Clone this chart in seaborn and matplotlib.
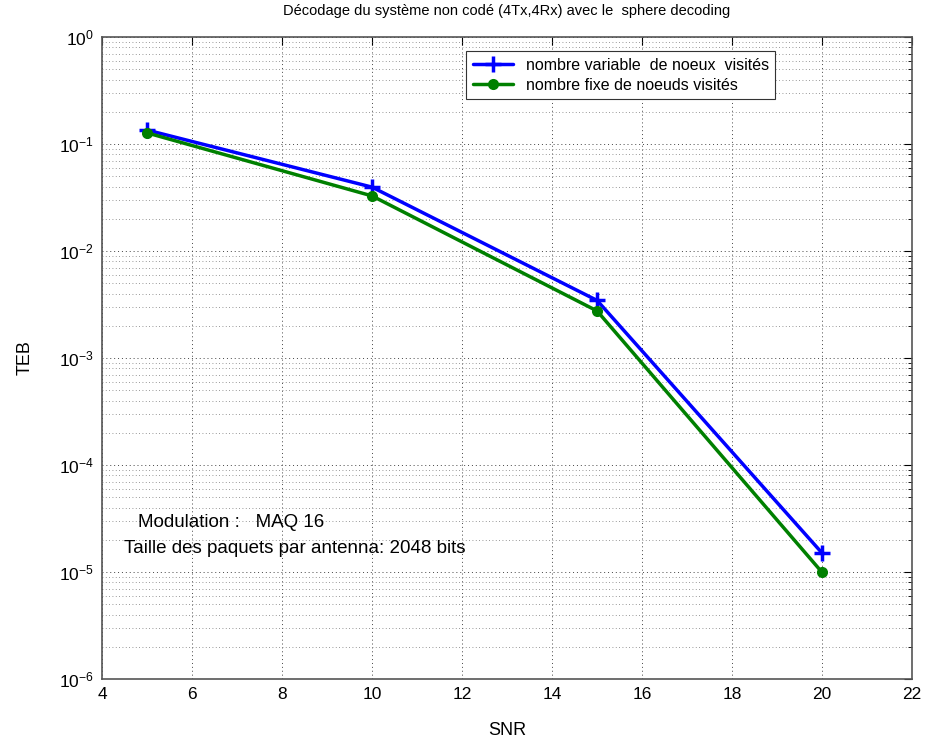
import numpy as np
import pandas as pd
import seaborn as sns
import matplotlib
matplotlib.use('Agg')
import matplotlib.pyplot as plt
from matplotlib.ticker import LogLocator, NullFormatter, MultipleLocator

snr = [5, 10, 15, 20]
teb_variable = [0.135, 0.0395, 0.00345, 1.5e-5]
teb_fixe = [0.127, 0.0327, 0.00275, 9.9e-6]
labels = ['nombre variable  de noeux  visités', 'nombre fixe de noeuds visités']
blue, green = '#0000ff', '#008000'

df = pd.DataFrame({
    'SNR': snr * 2,
    'TEB': teb_variable + teb_fixe,
    'serie': [labels[0]] * 4 + [labels[1]] * 4,
})

sns.set_style('white')
plt.rcParams['font.family'] = ['Liberation Sans', 'DejaVu Sans']
plt.rcParams['mathtext.fontset'] = 'custom'
plt.rcParams['mathtext.rm'] = 'Liberation Sans'
plt.rcParams['text.color'] = 'black'
plt.rcParams['axes.labelcolor'] = 'black'
plt.rcParams['xtick.color'] = 'black'
plt.rcParams['ytick.color'] = 'black'


def plus_marker(line):
    # matlab-style thick '+'
    line.set_marker('+')
    line.set_markersize(11)
    line.set_markeredgewidth(2.5)
    line.set_markeredgecolor(blue)


fig = plt.figure(figsize=(9.27, 7.44), dpi=100)
ax = fig.add_axes([0.110, 0.0874, 0.874, 0.8629])

sns.lineplot(data=df, x='SNR', y='TEB', hue='serie', style='serie',
             palette={labels[0]: blue, labels[1]: green},
             markers={labels[0]: 'P', labels[1]: 'o'}, dashes=False,
             linewidth=2.5, markersize=8, markeredgewidth=0, ax=ax)
for line in ax.get_lines():
    if line.get_color() == blue:
        plus_marker(line)

ax.set_yscale('log')
ax.set_xlim(4, 22)
ax.set_ylim(1e-6, 1)
ax.xaxis.set_major_locator(MultipleLocator(2))
ax.yaxis.set_major_locator(LogLocator(base=10, numticks=10))
ax.yaxis.set_minor_locator(LogLocator(base=10, subs=np.arange(2, 10), numticks=20))
ax.yaxis.set_minor_formatter(NullFormatter())

ax.grid(True, which='major', axis='both', linestyle=(0, (1, 3)), color='#444444', linewidth=0.7)
ax.grid(True, which='minor', axis='y', linestyle=(0, (1, 3)), color='#777777', linewidth=0.6)
ax.tick_params(which='both', direction='in', top=True, right=True, labelsize=12.5, pad=6)
ax.tick_params(which='major', length=6)
ax.tick_params(which='minor', length=3)
for s in ax.spines.values():
    s.set_color('#555555')
    s.set_linewidth(1.2)

ax.set_xlabel('SNR', fontsize=13, labelpad=14)
ax.set_ylabel('TEB', fontsize=13, labelpad=18)
ax.set_title("Décodage du système non codé (4Tx,4Rx) avec le  sphere decoding",
             fontsize=10.5, pad=16)

ax.text(4.8, 2.9e-5, 'Modulation :   MAQ 16', fontsize=13.5, va='center')
ax.text(4.49, 1.64e-5, 'Taille des paquets par antenna: 2048 bits', fontsize=13.5, va='center')

handles, _ = ax.get_legend_handles_labels()
leg = ax.legend(handles[:2], labels, loc='upper left', bbox_to_anchor=(0.44, 0.99),
                fontsize=11.5, frameon=True, fancybox=False, framealpha=1,
                edgecolor='#333333', borderpad=0.4, handlelength=2.5, labelspacing=0.3)
leg.get_frame().set_linewidth(0.8)
for h in leg.legend_handles:
    if h.get_color() == blue:
        plus_marker(h)

fig.savefig('out.png', dpi=100)
